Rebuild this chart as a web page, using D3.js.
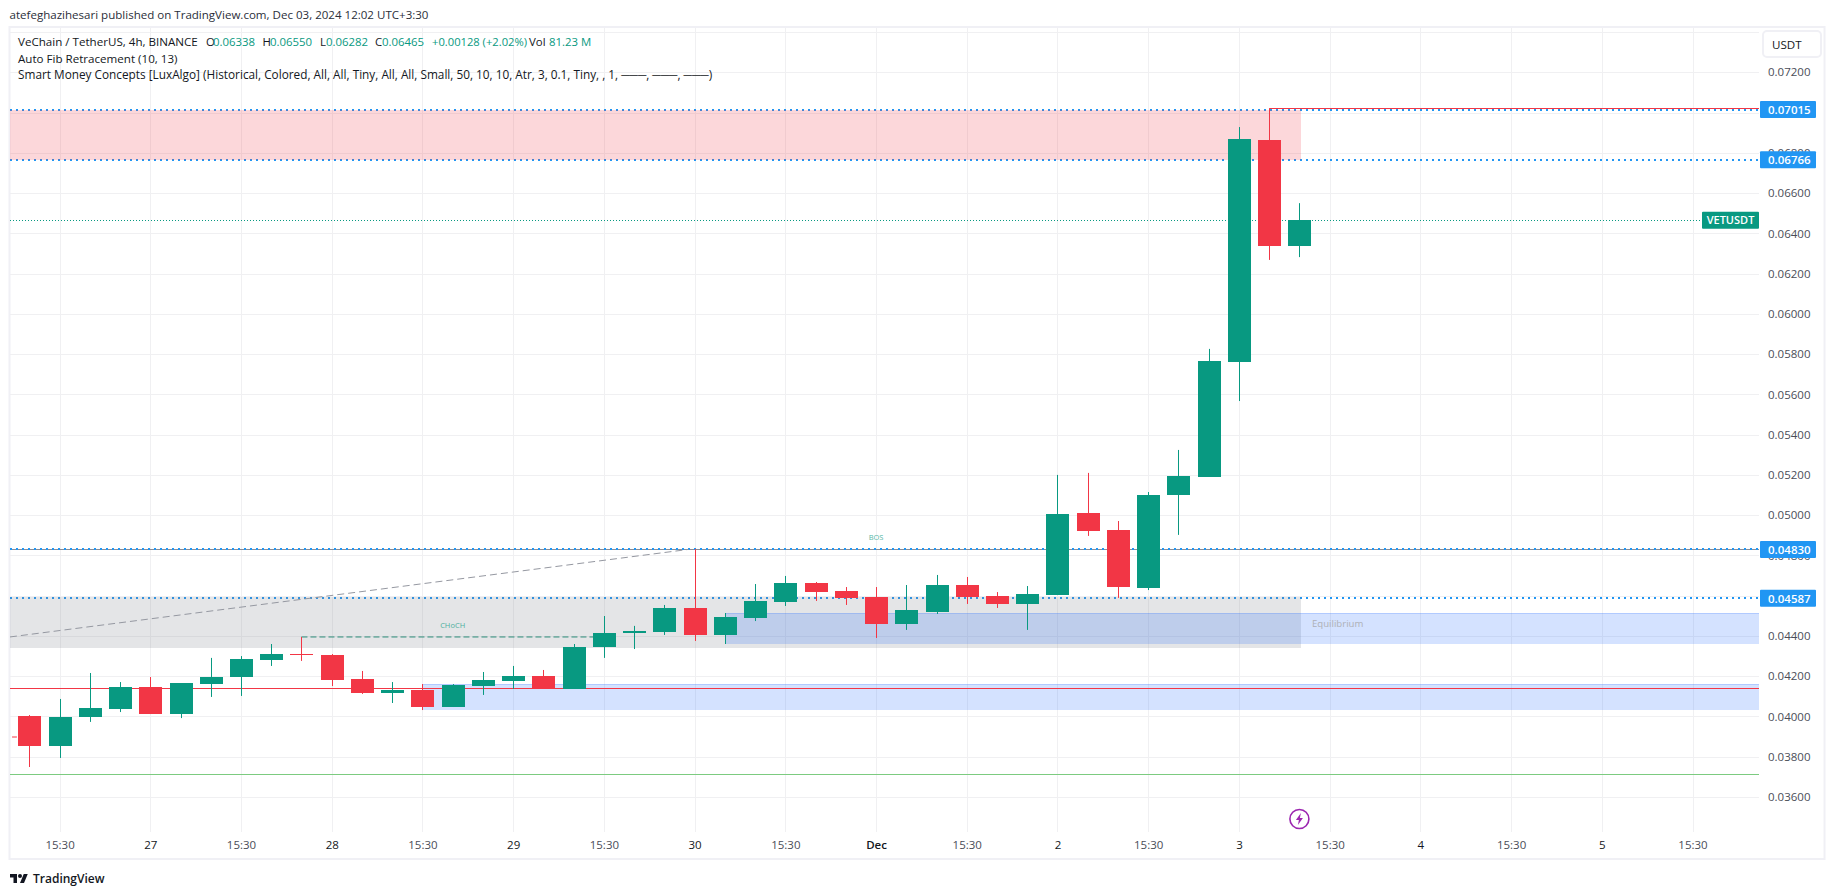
<!DOCTYPE html>
<html>
<head>
<meta charset="utf-8">
<script src="https://cdn.jsdelivr.net/npm/d3@7"></script>
<style>
  body { margin: 0; background: #fff; }
  text { font-family: "Open Sans", "Noto Sans", sans-serif; }
</style>
</head>
<body>
<div id="chart"></div>
<script>
// candles
const opens  = [.04002,.03853,.03997,.04037,.04146,.04012,.04161,.04196,.04281,.04310,.04305,.04186,.04117,.04132,.04047,.04151,.04176,.04201,.04137,.04345,.04415,.04420,.04539,.04405,.04489,.04569,.04663,.04623,.04594,.04459,.04519,.04653,.04599,.04559,.04603,.05011,.04926,.04638,.05100,.05190,.05761,.06864,.06338];
const highs  = [.04007,.04087,.04216,.04171,.04196,.04166,.04291,.04300,.04360,.04395,.04310,.04226,.04171,.04161,.04161,.04221,.04251,.04231,.04360,.04499,.04450,.04554,.04832,.04514,.04658,.04698,.04668,.04643,.04643,.04653,.04703,.04693,.04618,.04648,.05200,.05210,.04971,.05115,.05324,.05826,.06928,.07020,.06550];
const lows   = [.03749,.03794,.03973,.04022,.04012,.03992,.04097,.04102,.04251,.04276,.04151,.04112,.04067,.04032,.04047,.04107,.04137,.04142,.04137,.04291,.04335,.04405,.04375,.04360,.04474,.04549,.04574,.04554,.04390,.04430,.04509,.04559,.04539,.04430,.04603,.04897,.04589,.04628,.04902,.05190,.05567,.06268,.06282];
const closes = [.03853,.03997,.04042,.04146,.04012,.04166,.04196,.04286,.04310,.04305,.04181,.04117,.04132,.04047,.04156,.04181,.04201,.04142,.04345,.04415,.04425,.04539,.04405,.04494,.04574,.04663,.04618,.04589,.04459,.04529,.04653,.04594,.04559,.04608,.05006,.04921,.04643,.05100,.05195,.05766,.06869,.06337,.06465];

const priceTicks = [.074,.072,.070,.068,.066,.064,.062,.060,.058,.056,.054,.052,.050,.048,.046,.044,.042,.040,.038,.036];
const timeTicks  = [1,4,7,10,13,16,19,22,25,28,31,34,37,40,43,46,49,52,55];
const timeLabels = ['15:30','27','15:30','28','15:30','29','15:30','30','15:30','Dec','15:30','2','15:30','3','15:30','4','15:30','5','15:30'];

const dottedLevels = [.07015,.06766,.04830,.04587];
const lastPrice = .06465;
const redLevel = .04140;
const redTopLevel = .07020;
const greenLevel = .03713;

// zones: [from index, to index, top price, bottom price]
const pinkZone  = [-0.64, 42.05, .07015, .06766];
const greyZone  = [-0.64, 42.05, .04594, .04342];
const eqZone    = [23.03, 57.2, .04513, .04364];
const lowZone   = [13, 57.2, .04160, .04036];

const fibLine   = [[-0.64,.04395],[21.8,.04830]];
const chochLine = [[9,.04395],[19,.04395]];
const leftStub  = [[-0.57,.03898],[-0.41,.03898]];

const width = 1835, height = 895;
const paneL = 10, paneR = 1759, paneT = 28, paneB = 832;
const up = '#089981', down = '#F23645', blue = '#2196F3';

const x = d3.scaleLinear().domain([0, 42]).range([29.3, 1299.4]);
const y = d3.scaleLinear().domain([.036, .072]).range([797, 72.3]);

const svg = d3.select('#chart').append('svg')
  .attr('width', width).attr('height', height)
  .style('display', 'block');

svg.append('clipPath').attr('id', 'pane').append('rect')
  .attr('x', paneL).attr('y', paneT).attr('width', paneR - paneL).attr('height', paneB - paneT);

// frame
svg.append('rect')
  .attr('x', 9.5).attr('y', 27).attr('width', 1815).attr('height', 832)
  .attr('fill', 'none').attr('stroke', '#F0F0F5').attr('stroke-width', 2);

// grid
const gridY = svg.append('g').attr('transform', `translate(${paneL},0)`)
  .call(d3.axisRight(y).tickValues(priceTicks).tickSize(paneR - paneL).tickFormat(''));
const gridX = svg.append('g').attr('transform', `translate(0,${paneT})`)
  .call(d3.axisBottom(x).tickValues(timeTicks).tickSize(paneB - paneT).tickFormat(''));
[gridY, gridX].forEach(g => {
  g.select('.domain').remove();
  g.selectAll('line').attr('stroke', '#F0F0F2').attr('shape-rendering', 'crispEdges');
});

const pane = svg.append('g').attr('clip-path', 'url(#pane)');

function hline(price, color, w, dash) {
  const py = w === 2 ? Math.round(y(price)) : Math.round(y(price)) + .5;
  pane.append('line')
    .attr('x1', paneL).attr('x2', paneR)
    .attr('y1', py).attr('y2', py)
    .attr('stroke', color).attr('stroke-width', w)
    .attr('stroke-dasharray', dash || null);
}

// structure lines
hline(.04830, '#8A8D96', 1);
dottedLevels.forEach(d => hline(d, blue, 2, '2,4'));
hline(lastPrice, up, 1, '1,2');

// zones
function zone(z, fill, stroked) {
  const r = pane.append('rect')
    .attr('x', x(z[0])).attr('width', x(z[1]) - x(z[0]))
    .attr('y', y(z[2])).attr('height', y(z[3]) - y(z[2]))
    .attr('fill', fill)
    .attr('shape-rendering', 'crispEdges');
  if (stroked) r.attr('stroke', 'rgba(40,110,255,0.2)');
}
zone(pinkZone, 'rgba(242,54,69,0.2)');
zone(greyZone, 'rgba(120,123,134,0.2)');
zone(eqZone, 'rgba(40,110,255,0.2)', true);
zone(lowZone, 'rgba(40,110,255,0.2)', true);

hline(redLevel, '#F23645', 1);
hline(greenLevel, '#7CCB80', 1);

const line = d3.line().x(d => x(d[0])).y(d => y(d[1]));
pane.append('path').attr('d', line(fibLine)).attr('fill', 'none')
  .attr('stroke', '#9598A1').attr('stroke-width', 1).attr('stroke-dasharray', '7,4');
pane.append('path').attr('d', line(chochLine)).attr('fill', 'none')
  .attr('stroke', '#2B8A78').attr('stroke-width', 1).attr('stroke-dasharray', '6,3');
pane.append('path').attr('d', line(leftStub)).attr('fill', 'none')
  .attr('stroke', down).attr('stroke-width', 1);
pane.append('line')
  .attr('x1', x(41)).attr('x2', paneR)
  .attr('y1', Math.floor(y(redTopLevel)) + .5).attr('y2', Math.floor(y(redTopLevel)) + .5)
  .attr('stroke', down).attr('stroke-width', 1);

// candles
const candleIdx = d3.range(opens.length);
const color = i => closes[i] >= opens[i] ? up : down;
pane.selectAll('.wick').data(candleIdx).join('line')
  .attr('class', 'wick')
  .attr('x1', i => Math.round(x(i)) + .5).attr('x2', i => Math.round(x(i)) + .5)
  .attr('y1', i => y(highs[i])).attr('y2', i => y(lows[i]))
  .attr('stroke', color).attr('stroke-width', 1);
pane.selectAll('.body').data(candleIdx).join('rect')
  .attr('class', 'body')
  .attr('x', i => Math.round(x(i)) - 11)
  .attr('width', 23)
  .attr('y', i => y(Math.max(opens[i], closes[i])))
  .attr('height', i => Math.max(1, Math.abs(y(opens[i]) - y(closes[i]))))
  .attr('fill', color)
  .attr('shape-rendering', 'crispEdges');

// chart notes
pane.append('text').text('CHoCH').attr('x', x(14)).attr('y', 627.5)
  .attr('text-anchor', 'middle').attr('font-size', 7.5).attr('fill', '#089981').attr('opacity', .7);
pane.append('text').text('BOS').attr('x', x(28)).attr('y', 539.5)
  .attr('text-anchor', 'middle').attr('font-size', 7.5).attr('fill', '#089981').attr('opacity', .7);
pane.append('text').text('Equilibrium').attr('x', 1312).attr('y', 627)
  .attr('font-size', 9.6).attr('fill', '#AEB0B6');

// price axis
const axisY = svg.append('g').attr('transform', `translate(1768,0)`)
  .call(d3.axisRight(y).tickValues(priceTicks.slice(1)).tickSize(0).tickPadding(0).tickFormat(d3.format('.5f')));
axisY.select('.domain').remove();
axisY.selectAll('text').attr('font-size', 11.5).attr('fill', '#4A4D57')
  .style('font-family', '"Open Sans", sans-serif');

// time axis
const axisX = svg.append('g').attr('transform', `translate(0,841)`)
  .call(d3.axisBottom(x).tickValues(timeTicks).tickSize(0).tickPadding(0)
    .tickFormat((d, i) => timeLabels[i]));
axisX.select('.domain').remove();
axisX.selectAll('text').attr('font-size', 11.5)
  .attr('fill', (d, i) => timeLabels[i] === '15:30' ? '#4A4D57' : '#131722')
  .attr('font-weight', (d, i) => timeLabels[i] === 'Dec' ? 600 : 400)
  .style('font-family', '"Open Sans", sans-serif');

// level labels
dottedLevels.forEach(d => {
  svg.append('rect').attr('x', 1760).attr('y', y(d) - 8.5).attr('width', 56).attr('height', 17)
    .attr('rx', 1).attr('fill', blue);
  svg.append('text').text(d3.format('.5f')(d)).attr('x', 1768).attr('y', y(d) + 4.2)
    .attr('font-size', 11.5).attr('font-weight', 600).attr('fill', '#fff');
});
svg.append('rect').attr('x', 1702).attr('y', y(lastPrice) - 8.5).attr('width', 57).attr('height', 17)
  .attr('rx', 1).attr('fill', up);
svg.append('text').text('VETUSDT').attr('x', 1730.5).attr('y', y(lastPrice) + 4.2)
  .attr('text-anchor', 'middle').attr('font-size', 11).attr('font-weight', 600).attr('fill', '#fff');

// currency button
svg.append('rect').attr('x', 1763).attr('y', 31).attr('width', 58).attr('height', 26).attr('rx', 4)
  .attr('fill', '#fff').attr('stroke', '#F0F0F5').attr('stroke-width', 2);
svg.append('text').text('USDT').attr('x', 1772).attr('y', 48.5)
  .attr('font-size', 11.6).attr('fill', '#131722');

// header and legend
function label(txt, px, py, fill, size) {
  svg.append('text').text(txt).attr('x', px).attr('y', py)
    .attr('font-size', size || 11.4).attr('fill', fill || '#131722');
}
label('atefeghazihesari published on TradingView.com, Dec 03, 2024 12:02 UTC+3:30', 9.5, 19, '#2A2E39', 11.55);
label('VeChain / TetherUS, 4h, BINANCE', 18, 46, null, 11.6);
label('O', 206, 46); label('0.06338', 213, 46, up);
label('H', 262.5, 46); label('0.06550', 270, 46, up);
label('L', 320, 46); label('0.06282', 326, 46, up);
label('C', 375, 46); label('0.06465', 382, 46, up);
label('+0.00128 (+2.02%)', 432, 46, up, 11.2);
label('Vol', 529, 46); label('81.23 M', 549, 46, up);
label('Auto Fib Retracement (10, 13)', 18, 62.5, null, 11.6);
label('Smart Money Concepts [LuxAlgo] (Historical, Colored, All, All, Tiny, All, All, Small, 50, 10, 10, Atr, 3, 0.1, Tiny, , 1, ───, ───, ───)', 18, 79, null, 11.8);

// lightning mark
const mark = svg.append('g').attr('transform', `translate(${x(42)},819)`);
mark.append('circle').attr('r', 9.5).attr('fill', '#fff').attr('stroke', '#9C27B0').attr('stroke-width', 1.6);
mark.append('path').attr('d', 'M1.5,-6 L-3.5,1 L-0.5,1 L-1.5,6 L3.5,-1 L0.5,-1 Z').attr('fill', '#9C27B0');

// logo
const logo = svg.append('g').attr('transform', 'translate(10,872) scale(0.5)').attr('fill', '#131722');
logo.append('path').attr('d', 'M14 22H7V11H0V4h14v18zM28 22h-8l7.5-18h8L28 22z');
logo.append('circle').attr('cx', 20).attr('cy', 8).attr('r', 4);
svg.append('text').text('TradingView').attr('x', 33).attr('y', 883)
  .attr('font-size', 12).attr('font-weight', 600).attr('fill', '#131722');
</script>
</body>
</html>
